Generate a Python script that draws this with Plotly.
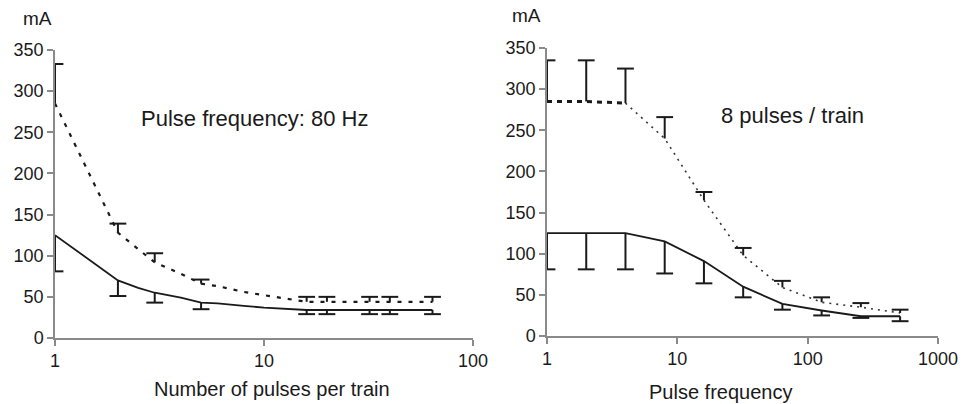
import plotly.graph_objects as go

# ---------------- data ----------------
# Left panel: number of pulses per train (80 Hz)
left_x = [1, 2, 2.5, 3, 4, 5, 6, 7, 8, 10, 12, 16, 20, 32, 40, 64]
left_solid = [125, 70, 61, 55, 49, 43, 42, 40, 39, 37, 35.5, 34, 34, 34, 34, 34]
left_dotted = [285, 128, 108, 92, 78, 66, 63, 59, 56, 52, 49, 44, 44, 44, 44, 44]

left_err_x = [1, 2, 3, 5, 16, 20, 32, 40, 64]
left_solid_val = [125, 70, 55, 43, 34, 34, 34, 34, 34]
left_solid_low = [81, 51, 43, 35, 29, 29, 29, 29, 29]
left_dotted_val = [285, 128, 92, 66, 44, 44, 44, 44, 44]
left_dotted_up = [333, 139, 103, 71, 50, 50, 50, 50, 50]

# Right panel: pulse frequency (8 pulses / train)
right_x = [1, 2, 4, 8, 16, 32, 64, 128, 256, 512]
right_solid = [125, 125, 125, 115, 91, 60, 39, 31, 24, 24]
right_solid_low = [81, 81, 81, 76, 64, 47, 32, 25, 22, 18]
right_dotted = [285, 285, 283, 240, 165, 98, 59, 41, 35, 28]
right_dotted_up = [335, 335, 325, 266, 175, 107, 67, 47, 40, 32]

y_ticks = [0, 50, 100, 150, 200, 250, 300, 350]
left_xticks = [1, 10, 100]
right_xticks = [1, 10, 100, 1000]

FONT = "Liberation Sans, Arial, sans-serif"
INK = "#1a1a1a"
AXIS = "#8a8a8a"

fig = go.Figure()


def cap_trace(x, tip, base, xa, ya, width=2):
    # stem from base to tip, with a cap marker at the tip
    diff = [t - b for t, b in zip(tip, base)]
    up = [max(d, 0) for d in diff]
    down = [max(-d, 0) for d in diff]
    return go.Scatter(
        x=x, y=tip, mode="markers", xaxis=xa, yaxis=ya, showlegend=False,
        marker=dict(symbol="line-ew", size=12, line=dict(width=width, color=INK)),
        error_y=dict(type="data", symmetric=False, array=down, arrayminus=up,
                     width=0, thickness=width, color=INK),
        hoverinfo="skip",
    )


# Left panel lines
fig.add_trace(go.Scatter(x=left_x, y=left_solid, mode="lines", xaxis="x", yaxis="y",
                         line=dict(color=INK, width=1.8), showlegend=False))
fig.add_trace(go.Scatter(x=left_x, y=left_dotted, mode="lines", xaxis="x", yaxis="y",
                         line=dict(color=INK, width=2.2, dash="4px,7px"), showlegend=False))
fig.add_trace(cap_trace(left_err_x, left_solid_low, left_solid_val, "x", "y"))
fig.add_trace(cap_trace(left_err_x, left_dotted_up, left_dotted_val, "x", "y"))

# Right panel lines
fig.add_trace(go.Scatter(x=right_x, y=right_solid, mode="lines", xaxis="x2", yaxis="y2",
                         line=dict(color=INK, width=1.8), showlegend=False))
fig.add_trace(go.Scatter(x=right_x[2:], y=right_dotted[2:], mode="lines", xaxis="x2", yaxis="y2",
                         line=dict(color="#333333", width=1.6, dash="2px,5px"), showlegend=False))
fig.add_trace(go.Scatter(x=right_x[:3], y=right_dotted[:3], mode="lines", xaxis="x2", yaxis="y2",
                         line=dict(color=INK, width=3, dash="5px,5px"), showlegend=False))
fig.add_trace(cap_trace(right_x, right_solid_low, right_solid, "x2", "y2"))
fig.add_trace(cap_trace(right_x, right_dotted_up, right_dotted, "x2", "y2"))

W, H = 962, 404

common_x = dict(type="log", showgrid=False, zeroline=False, showline=True, linecolor=AXIS,
                linewidth=1.5, ticks="outside", ticklen=6, tickcolor=AXIS, tickwidth=1.5,
                automargin=False,
                tickfont=dict(family=FONT, size=18, color=INK))
common_y = dict(range=[0, 350], showgrid=False, zeroline=False, showline=True, linecolor=AXIS,
                linewidth=1.5, ticks="outside", ticklen=6, tickcolor=AXIS, tickwidth=1.5,
                automargin=False,
                tickvals=y_ticks, tickfont=dict(family=FONT, size=18, color=INK))


def label(text, x, y, size):
    return dict(text=text, xref="paper", yref="paper", x=x / W, y=1 - y / H,
                xanchor="center", yanchor="middle", showarrow=False,
                font=dict(family=FONT, size=size, color=INK))


fig.update_layout(
    width=W, height=H, margin=dict(l=0, r=0, t=0, b=0, autoexpand=False),
    paper_bgcolor="white", plot_bgcolor="white",
    xaxis=dict(common_x, domain=[55 / W, 473 / W], range=[0, 2], tickvals=left_xticks,
               ticktext=[str(v) for v in left_xticks], anchor="y"),
    yaxis=dict(common_y, domain=[1 - 338 / H, 1 - 50 / H], anchor="x"),
    xaxis2=dict(common_x, domain=[547 / W, 938 / W], range=[0, 3], tickvals=right_xticks,
                ticktext=[str(v) for v in right_xticks], anchor="y2"),
    yaxis2=dict(common_y, domain=[1 - 336 / H, 1 - 48 / H], anchor="x2"),
    annotations=[
        label("mA", 37, 18, 19),
        label("mA", 526, 15, 19),
        label("Pulse frequency: 80 Hz", 254, 118, 22),
        label("8 pulses / train", 792, 115, 22),
        label("Number of pulses per train", 272, 389, 20),
        label("Pulse frequency", 720, 392, 20),
    ],
)

fig.write_html("out.html")
